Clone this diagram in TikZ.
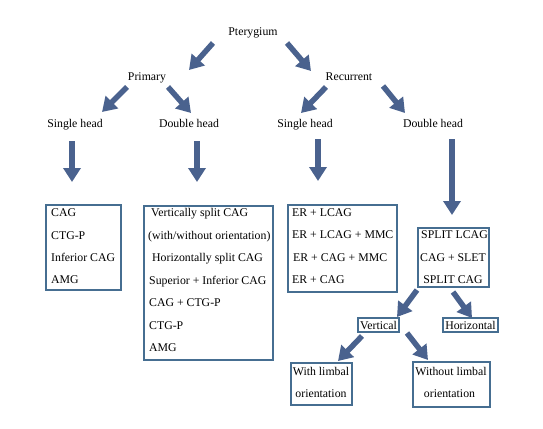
\documentclass[tikz,border=0pt]{standalone}
\usepackage{fontspec}
\setmainfont{Liberation Serif}
\newfontfamily\timesfont{Liberation Serif}
\usetikzlibrary{arrows.meta}
\definecolor{arrowc}{RGB}{74,98,142}
\definecolor{boxc}{RGB}{70,110,145}
\begin{document}
\begin{tikzpicture}[x=1pt,y=-1pt,
  font=\timesfont\fontsize{11.8}{13}\selectfont,
  lbl/.style={inner sep=0pt, anchor=base},
  item/.style={inner sep=0pt, anchor=base west},
  box/.style={draw=boxc, line width=1.4pt, inner sep=0pt},
  arr/.style={draw=arrowc, line width=5.5pt, -{Triangle[width=17pt,length=14pt]}}]
\useasboundingbox (0,0) rectangle (543,428);

% labels
\node[lbl] (pter) at (253,36) {Pterygium};
\node[lbl] (prim) at (147,81) {Primary};
\node[lbl] (recu) at (349,81) {Recurrent};
\node[lbl] (psh) at (75,127) {Single head};
\node[lbl] (pdh) at (189,127) {Double head};
\node[lbl] (rsh) at (305,127) {Single head};
\node[lbl] (rdh) at (433,127) {Double head};

% boxes
\node[box, minimum width=75pt, minimum height=85pt] (b1) at (83.5,247.5) {};
\node[box, minimum width=129pt, minimum height=154pt] (b2) at (208.5,283) {};
\node[box, minimum width=109pt, minimum height=87pt] (b3) at (342.5,248.5) {};
\node[box, minimum width=71pt, minimum height=59pt] (b4) at (453.5,257.5) {};
\node[box, minimum width=41pt, minimum height=14pt] (bv) at (378.5,325) {};
\node[box, minimum width=55pt, minimum height=14pt] (bh) at (470.5,325) {};
\node[box, minimum width=61pt, minimum height=42pt] (bw) at (321.5,384) {};
\node[box, minimum width=77pt, minimum height=45pt] (bwo) at (451.5,384.5) {};

% box 1 items
\node[item] (t11) at (51,216) {CAG};
\node[item] (t12) at (51,239) {CTG-P};
\node[item] (t13) at (51,261) {Inferior CAG};
\node[item] (t14) at (51,283) {AMG};
% box 2 items
\node[item] (t21) at (151,216) {Vertically split CAG};
\node[item] (t22) at (148,239) {(with/without orientation)};
\node[item] (t23) at (152,261) {Horizontally split CAG};
\node[item] (t24) at (149,284) {Superior + Inferior CAG};
\node[item] (t25) at (149,306) {CAG + CTG-P};
\node[item] (t26) at (149,329) {CTG-P};
\node[item] (t27) at (149,351) {AMG};
% box 3 items
\node[item] (t31) at (292,216) {ER + LCAG};
\node[item] (t32) at (292,238) {ER + LCAG + MMC};
\node[item] (t33) at (293,261) {ER + CAG + MMC};
\node[item] (t34) at (292,283) {ER + CAG};
% box 4 items
\node[lbl] (t41) at (454.5,238) {SPLIT LCAG};
\node[lbl] (t42) at (453,261) {CAG + SLET};
\node[lbl] (t43) at (453,283) {SPLIT CAG};
% small boxes text
\node[lbl] (tv) at (378.5,329) {Vertical};
\node[lbl] (th) at (470.5,329) {Horizontal};
\node[lbl] (tw1) at (321,375) {With limbal};
\node[lbl] (tw2) at (321,397) {orientation};
\node[lbl] (to1) at (451,375) {Without limbal};
\node[lbl] (to2) at (449.5,397) {orientation};

% arrow end points
\coordinate (a1s) at (213,43);  \coordinate (a1e) at (189,70);
\coordinate (a2s) at (287,43);  \coordinate (a2e) at (311,71);
\coordinate (a3s) at (127,87);  \coordinate (a3e) at (102,112);
\coordinate (a4s) at (168,87);  \coordinate (a4e) at (191,113);
\coordinate (a5s) at (326,87);  \coordinate (a5e) at (301,113);
\coordinate (a6s) at (383,86);  \coordinate (a6e) at (405,113);
\coordinate (a7s) at (72,141);  \coordinate (a7e) at (72,182);
\coordinate (a8s) at (197,141); \coordinate (a8e) at (197,182);
\coordinate (a9s) at (318,139); \coordinate (a9e) at (318,181);
\coordinate (a10s) at (452,139); \coordinate (a10e) at (452,215);
\coordinate (a11s) at (417,290); \coordinate (a11e) at (397,317);
\coordinate (a12s) at (453,292); \coordinate (a12e) at (472,318);
\coordinate (a13s) at (362,336); \coordinate (a13e) at (338,361);
\coordinate (a14s) at (407,333); \coordinate (a14e) at (428,360);

\foreach \i in {1,...,14} { \draw[arr] (a\i s) -- (a\i e); }
\end{tikzpicture}
\end{document}
